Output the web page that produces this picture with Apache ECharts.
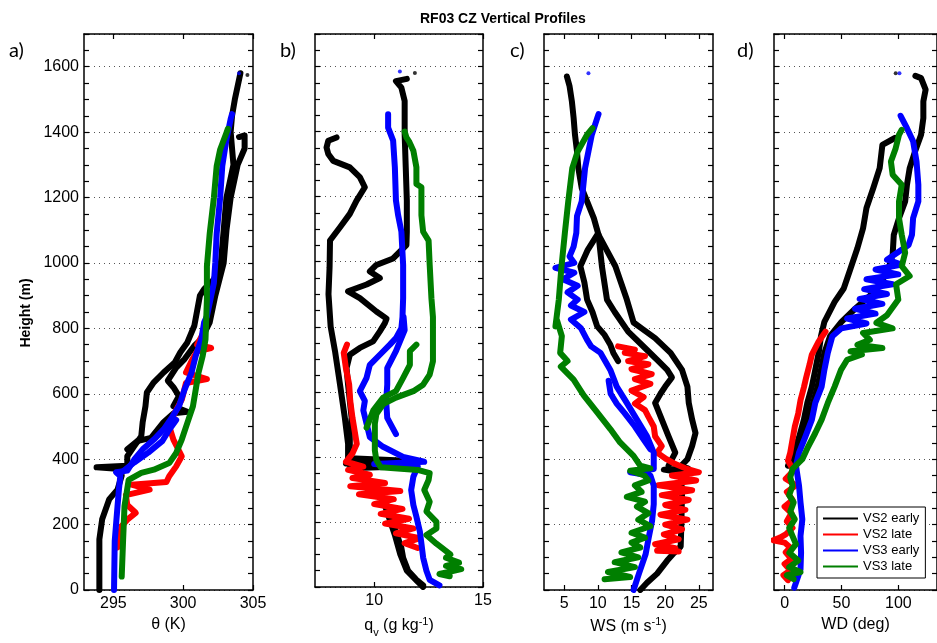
<!DOCTYPE html>
<html>
<head>
<meta charset="utf-8">
<script src="https://cdn.jsdelivr.net/npm/echarts@6/dist/echarts.min.js"></script>
<style>
  html, body { margin: 0; background: #fff; }
  #chart { width: 937px; height: 643px; }
</style>
</head>
<body>
<div id="chart"></div>
<script>
// every leg is a list of [x value, height in m]

// a) potential temperature (K)
const thetaVS2EarlyA = [[294.0,0],[294.0,155],[294.2,216],[294.7,277],[295.3,307],[295.6,350],[295.5,370],[293.8,375],[296.0,380],[296.0,409],[296.5,440],[297.0,470],[297.1,513],[297.3,562],[297.4,604],[297.9,635],[298.6,665],[299.4,696],[299.8,727],[300.3,757],[300.8,808],[301.2,900],[301.5,920],[302.2,950],[302.7,1000],[302.9,1100],[303.1,1200],[303.6,1300],[303.4,1400],[303.5,1450],[303.7,1500],[304.1,1580]]
const thetaVS2EarlyB = [[296.0,430],[296.7,455],[297.7,465],[298.6,513],[299.3,540],[300.3,545],[299.3,562],[299.7,593],[299.3,620],[298.9,640],[299.5,680],[300.1,706],[300.8,747],[301.3,767],[301.9,818],[302.3,900],[302.9,1000],[303.1,1100],[303.4,1200],[303.9,1300],[304.4,1350],[304.4,1390],[304.0,1385]]
const thetaVS2Late = [[295.3,130],[295.6,196],[296.0,215],[296.6,236],[296.0,260],[295.9,290],[297.6,307],[296.3,322],[298.8,330],[299.0,348],[299.5,378],[299.9,409],[299.3,460],[299.0,501],[299.4,542],[299.9,582],[300.2,633],[301.7,645],[300.2,665],[300.6,700],[301.0,730],[302.0,740],[301.0,750],[301.5,790]]
const thetaVS3Early = [[295.05,0],[295.1,150],[295.3,256],[295.4,307],[295.5,348],[295.2,360],[296.0,365],[296.5,399],[297.1,430],[297.9,460],[298.6,491],[299.1,521],[299.7,562],[300.1,613],[300.6,665],[300.9,716],[301.3,767],[301.5,818],[301.7,837],[302.2,939],[302.3,1000],[302.4,1090],[302.65,1200],[302.8,1296],[303.1,1378],[303.4,1440],[303.5,1455]]
const thetaVS3EarlyB = [[295.6,360],[296.5,390],[297.5,420],[298.5,455],[299.0,490],[299.5,520]]
const thetaVS3Late = [[295.6,41],[295.7,153],[295.8,256],[296.1,337],[297.0,358],[297.9,368],[299.0,388],[299.5,419],[299.9,460],[300.3,511],[300.7,562],[300.9,613],[301.1,665],[301.4,716],[301.6,767],[301.7,888],[301.7,990],[301.9,1090],[302.2,1200],[302.4,1296],[302.65,1347],[303.1,1398],[303.2,1410]]

// b) water vapour mixing ratio (g/kg)
const qVS2EarlyA = [[12.25,0],[11.5,50],[11.2,100],[10.95,160],[10.7,210],[10.5,250],[10.1,300],[9.6,340],[9.2,365],[8.8,380],[8.8,440],[8.65,521],[8.43,622],[8.2,725],[8.0,800],[7.9,900],[7.95,983],[7.97,1065],[8.43,1106],[8.88,1147],[9.19,1188],[9.57,1229],[9.34,1260],[8.88,1290],[8.12,1310],[7.89,1331],[7.81,1351],[7.89,1372],[8.27,1382]]
const qVS2EarlyB = [[12.25,5],[11.94,22],[11.56,50],[11.33,90],[11.25,120],[11.0,170],[10.8,211],[10.57,252],[10.26,283],[9.8,319],[9.34,350],[8.88,365],[11.8,372],[8.7,380],[11.5,388],[8.9,396],[8.88,420],[8.88,470],[8.96,521],[8.88,572],[8.8,622],[8.73,673],[8.88,714],[9.34,735],[9.95,755],[10.26,786],[10.49,811],[10.57,825],[10.1,847],[9.34,888],[8.8,909],[9.65,930],[10.26,950],[9.8,970],[10.1,990],[10.87,1010],[11.18,1031],[11.48,1051],[11.5,1092],[11.5,1188],[11.45,1290],[11.4,1392],[11.4,1494],[11.25,1535],[11.0,1555],[11.5,1562]]
const qVS2Late = [[12.0,120],[11.4,135],[12.1,150],[11.0,165],[11.8,180],[10.5,195],[11.6,210],[10.3,225],[11.3,240],[10.0,255],[10.9,270],[9.3,285],[11.2,295],[8.9,310],[10.5,320],[9.0,335],[9.8,345],[8.8,360],[9.5,370],[8.7,385],[9.0,410],[9.2,440],[9.1,480],[9.0,521],[8.9,572],[8.85,622],[8.7,673],[8.6,720],[8.75,745]]
const qVS3Early = [[13.0,5],[12.55,22],[12.4,50],[12.25,90],[12.17,133],[12.1,170],[11.94,216],[11.8,252],[11.7,298],[11.8,339],[12.0,370],[10.0,378],[12.3,385],[11.33,400],[10.41,431],[9.8,461],[9.65,502],[9.5,543],[9.57,572],[9.34,602],[9.65,643],[9.8,683],[10.26,714],[10.72,745],[11.0,765],[11.25,796],[11.3,830],[11.33,888],[11.33,990],[11.25,1092],[11.1,1143],[11.0,1188],[10.95,1290],[10.87,1372],[10.64,1412],[10.64,1453]]
const qVS3EarlyB = [[11.0,470],[10.6,520],[10.55,572],[10.6,622],[10.6,673],[11.0,725],[11.4,790],[11.35,830]]
const qVS3Late = [[13.47,33],[13.0,40],[14.0,55],[13.3,65],[13.9,75],[13.3,90],[13.5,100],[12.86,133],[12.4,160],[12.86,180],[12.86,200],[12.4,232],[12.55,262],[12.3,298],[12.5,329],[12.55,350],[12.0,360],[10.3,368],[10.1,390],[10.03,420],[10.03,461],[10.03,502],[10.1,532],[10.41,562],[11.0,582],[11.8,602],[12.25,622],[12.55,653],[12.7,694],[12.7,745],[12.7,796],[12.7,830],[12.63,888],[12.55,990],[12.5,1065],[12.25,1092],[12.17,1143],[12.17,1188],[12.17,1229],[11.94,1239],[11.94,1290],[11.8,1341],[11.6,1370],[11.48,1382],[11.4,1400]]
const qVS3LateB = [[9.65,490],[9.96,543],[10.41,582],[11.0,602],[11.33,643],[11.64,683],[11.64,725],[11.94,745]]

// c) wind speed (m/s)
const wsVS2EarlyA = [[16.3,0],[17.3,22],[18.8,50],[20.3,90],[21.3,113],[22.3,133],[22.4,200],[22.5,300],[22.3,360],[19.8,368],[23.4,372],[22.3,378],[23.3,400],[24.0,440],[24.5,480],[24.0,521],[23.5,572],[23.3,622],[22.5,673],[20.8,725],[18.5,770],[16.5,800],[15.3,818],[14.3,888],[12.6,990],[10.1,1086],[9.4,1137],[8.4,1188],[7.6,1229],[7.1,1290],[6.9,1341],[6.6,1392],[6.4,1443],[6.14,1494],[5.8,1540],[5.4,1570]]
const wsVS2EarlyB = [[20.5,380],[21.5,420],[20.5,470],[19.5,521],[18.5,572],[19.3,600],[20.0,622],[21.0,650],[20.3,673],[19.0,700],[17.0,740],[14.5,790],[12.5,850],[11.35,888],[10.6,990],[10.1,1086]]
const wsVS2EarlyC = [[13.0,700],[12.3,725],[11.85,750],[11.0,780],[9.9,806],[9.2,850],[8.4,888],[8.0,940],[7.4,990],[8.5,1040],[9.9,1086]]
const wsVS2Late = [[13.0,745],[15.5,735],[14.0,725],[17.0,715],[14.5,700],[17.5,690],[15.0,675],[18.0,660],[15.5,645],[17.8,630],[15.0,610],[16.8,590],[15.5,570],[17.0,550],[17.5,530],[18.3,500],[18.5,470],[19.5,440],[18.8,420],[20.2,400],[21.5,385],[23.0,372],[25.0,360],[21.0,350],[24.6,335],[19.0,320],[24.0,305],[19.5,290],[23.5,275],[20.0,260],[23.0,245],[19.3,230],[23.3,215],[20.0,200],[22.5,185],[19.8,170],[22.0,155],[18.5,140],[21.5,128],[18.8,120],[22.0,118]]
const wsVS3Early = [[15.3,0],[16.1,50],[17.1,110],[17.55,160],[18.05,211],[18.3,262],[18.3,319],[17.8,350],[14.8,360],[18.3,370],[18.3,420],[17.3,470],[15.8,521],[14.3,572],[12.8,622],[11.85,673],[10.4,725],[9.0,745],[8.4,765],[7.5,800],[6.0,827],[8.0,850],[6.0,870],[7.0,888],[5.5,910],[7.0,930],[4.8,950],[6.5,970],[3.7,985],[6.5,1000],[5.8,1020],[6.4,1050],[6.8,1092],[6.9,1143],[7.6,1188],[8.1,1290],[8.6,1341],[9.1,1392],[9.9,1443],[10.1,1455]]
const wsVS3EarlyB = [[11.6,640],[11.9,600],[12.8,570],[14.0,540],[15.5,500],[16.8,460],[17.8,430]]
const wsVS3Late = [[11.0,33],[14.8,40],[11.5,55],[15.5,70],[12.5,85],[16.0,100],[13.5,115],[16.3,130],[15.0,145],[17.0,160],[15.0,175],[17.8,195],[16.0,215],[17.5,235],[15.8,255],[17.0,270],[14.3,285],[16.5,300],[15.5,320],[17.5,335],[16.9,350],[14.8,365],[17.8,372],[16.3,380],[15.3,410],[13.3,451],[11.85,492],[9.9,543],[7.9,595],[6.4,643],[4.5,683],[5.5,700],[4.4,725],[4.65,776],[3.9,827],[3.7,806],[4.2,888],[4.6,990],[5.1,1092],[5.6,1188],[6.2,1290],[7.0,1341],[8.4,1392],[9.2,1412]]

// d) wind direction (deg)
const wdVS2EarlyL = [[3,380],[8,420],[13,470],[17,521],[20,572],[24,622],[27,673],[30,725],[32,776],[35,820],[44,881],[52,922],[58,983],[64,1045],[69,1106],[72,1168],[78,1229],[83.6,1290],[86,1361],[97,1382]]
const wdVS2EarlyR = [[6,380],[12,420],[17,470],[21,521],[25,572],[29,622],[32,673],[35,725],[40,776],[50,820],[62,860],[75,900],[85,940],[92,990],[95,1025],[96,1086],[100.6,1137],[106,1188],[107.6,1239],[110,1290],[114.7,1341],[120,1392],[122,1443],[122,1494],[124,1530],[120,1565],[115,1572]]
const wdVS2Late = [[36,790],[30,760],[24,720],[22,690],[19,650],[17,620],[14,580],[12,540],[9,500],[7,460],[5,420],[3,395],[8,365],[1,340],[10,320],[2,300],[7,275],[0,255],[6,235],[2,210],[7,190],[1,170],[-4,160],[-10,152],[0,145],[5,130],[1,115],[6,95],[0,80],[5,60],[-1,45],[3,30]]
const wdVS3Early = [[8.5,7],[10,22],[14,63],[14.5,114],[14,165],[15.6,216],[14,268],[12.7,319],[10,380],[12.7,420],[18.4,470],[24,521],[27,572],[32.6,622],[35,673],[38,725],[42,776],[50,800],[72,815],[55,830],[80,845],[62,860],[86,875],[66,890],[90,905],[70,920],[95,935],[72,950],[100,965],[80,980],[103,995],[90,1010],[109,1055],[112,1086],[113,1137],[117.6,1188],[117.6,1239],[116,1310],[113,1372],[107.6,1412],[102,1450]]
const wdVS3Late = [[8,33],[2,45],[14,55],[4,70],[12,90],[4.2,114],[10,140],[7,165],[4,190],[9,216],[5,240],[8,268],[4,290],[7,319],[5,345],[7,370],[15.6,400],[21,440],[27,480],[32.6,521],[38,572],[44,622],[49.6,673],[55,704],[68,720],[58,730],[86,740],[64,750],[75,765],[69,786],[95,800],[80.7,817],[90,840],[100,888],[98,935],[110,960],[103,990],[106,1031],[103,1086],[100.6,1137],[100.6,1188],[103,1239],[95,1270],[93.5,1310],[97.7,1351],[100.6,1392],[103,1407]]

// single stray samples near the top of the profiles
const strayVS2Early = [[[304.6,1575]], [[11.87,1580]], [], [[97.7,1580]]]
const strayVS3Early = [[[304.0,1580]], [[11.18,1585]], [[8.6,1580]], [[101,1580]]]

const heightTicks = [0, 200, 400, 600, 800, 1000, 1200, 1400, 1600]
const thetaTicks = [295, 300, 305]
const qTicks = [10, 15]
const wsTicks = [5, 10, 15, 20, 25]
const wdTicks = [0, 50, 100]

const NAMES = ['VS2 early', 'VS2 late', 'VS3 early', 'VS3 late']
const COLORS = { 'VS2 early': '#000000', 'VS2 late': '#ff0000', 'VS3 early': '#0000ff', 'VS3 late': '#007f00' }
const FONT = '"Liberation Sans", Arial, sans-serif'

const panels = [
  { left: 84, width: 169, min: 292.9, max: 305, ticks: thetaTicks, name: '{t|\u03b8 (K)}',
    legs: [['VS2 early', thetaVS2EarlyA], ['VS2 early', thetaVS2EarlyB], ['VS2 late', thetaVS2Late],
      ['VS3 early', thetaVS3Early], ['VS3 early', thetaVS3EarlyB], ['VS3 late', thetaVS3Late]] },
  { left: 315, width: 168, min: 7.28, max: 15, ticks: qTicks, name: '{t|q}{sub|v}{t| (g kg}{sup|-1}{t|)}',
    legs: [['VS2 early', qVS2EarlyA], ['VS2 early', qVS2EarlyB], ['VS2 late', qVS2Late],
      ['VS3 early', qVS3Early], ['VS3 early', qVS3EarlyB], ['VS3 late', qVS3Late], ['VS3 late', qVS3LateB]] },
  { left: 544, width: 169, min: 2.0, max: 27.1, ticks: wsTicks, name: '{t|WS (m s}{sup|-1}{t|)}',
    legs: [['VS2 early', wsVS2EarlyA], ['VS2 early', wsVS2EarlyB], ['VS2 early', wsVS2EarlyC], ['VS2 late', wsVS2Late],
      ['VS3 early', wsVS3Early], ['VS3 early', wsVS3EarlyB], ['VS3 late', wsVS3Late]] },
  { left: 774, width: 169, min: -9.3, max: 134, ticks: wdTicks, name: '{t|WD (deg)}',
    legs: [['VS2 early', wdVS2EarlyL], ['VS2 early', wdVS2EarlyR], ['VS2 late', wdVS2Late],
      ['VS3 early', wdVS3Early], ['VS3 late', wdVS3Late]] },
]

const axisLine = { show: true, onZero: false, lineStyle: { color: '#000', width: 1.5 } }
const tickStyle = { color: '#000', width: 1.2 }
const labelStyle = { color: '#000', fontSize: 16, fontFamily: FONT }

const grid = []
const xAxis = []
const yAxis = []
const series = []

panels.forEach((p, g) => {
  grid.push({ left: p.left, top: 34, width: p.width, height: 556 })
  xAxis.push({
    gridIndex: g, type: 'value', position: 'bottom', min: p.min, max: p.max,
    name: p.name, nameLocation: 'middle', nameGap: 26,
    nameTextStyle: {
      rich: {
        t: { fontSize: 16, fontFamily: FONT, color: '#000' },
        sub: { fontSize: 11, fontFamily: FONT, color: '#000', padding: [14, 0, 0, 0] },
        sup: { fontSize: 11, fontFamily: FONT, color: '#000', padding: [0, 0, 8, 0] },
      },
    },
    axisLine,
    axisTick: { inside: true, length: 5, customValues: p.ticks, lineStyle: tickStyle },
    axisLabel: { customValues: p.ticks, margin: 6, ...labelStyle },
    splitLine: { show: false },
  })
  xAxis.push({
    gridIndex: g, type: 'value', position: 'top', min: p.min, max: p.max,
    axisLine,
    axisTick: { inside: true, length: 5, customValues: p.ticks, lineStyle: tickStyle },
    axisLabel: { show: false },
    splitLine: { show: false },
  })
  const yBase = {
    gridIndex: g, type: 'value', min: 0, max: 1700, interval: 200,
    axisLine,
    axisTick: { inside: true, length: 5, lineStyle: tickStyle },
    minorTick: { show: true, splitNumber: 4, length: 5, lineStyle: tickStyle },
  }
  yAxis.push({
    ...yBase, position: 'left',
    axisLabel: { show: g === 0, showMaxLabel: false, margin: 5, ...labelStyle,
      formatter: (v) => (heightTicks.includes(v) ? String(v) : '') },
    splitLine: { show: true, lineStyle: { type: [1, 4], color: '#555', width: 1 } },
  })
  yAxis.push({
    ...yBase, position: 'right',
    axisLabel: { show: false },
    splitLine: { show: false },
  })

  p.legs.forEach(([name, data]) => {
    series.push({
      name, type: 'line', data,
      xAxisIndex: g * 2, yAxisIndex: g * 2,
      showSymbol: false, symbol: 'none',
      lineStyle: { width: 6, color: COLORS[name], join: 'round', cap: 'round' },
      itemStyle: { color: COLORS[name] },
      z: 2 + NAMES.indexOf(name),
      silent: true,
    })
  })
  ;[['VS2 early', strayVS2Early[g]], ['VS3 early', strayVS3Early[g]]].forEach(([name, data]) => {
    if (!data.length) return
    series.push({
      name, type: 'scatter', data, symbolSize: 4,
      xAxisIndex: g * 2, yAxisIndex: g * 2,
      itemStyle: { color: COLORS[name] }, silent: true, z: 6,
    })
  })
})

const chart = echarts.init(document.getElementById('chart'))
chart.setOption({
  animation: false,
  backgroundColor: '#fff',
  title: {
    text: 'RF03 CZ Vertical Profiles', left: 415, top: 7,
    textStyle: { fontSize: 14, fontWeight: 'bold', fontFamily: FONT, color: '#000' },
  },
  legend: {
    data: NAMES, orient: 'vertical', left: 817, top: 507,
    backgroundColor: '#fff', borderColor: '#000', borderWidth: 1,
    padding: [5, 6, 5, 6], itemGap: 3, itemWidth: 35, itemHeight: 2, icon: 'rect',
    textStyle: { fontSize: 13, fontFamily: FONT, color: '#000' },
  },
  grid, xAxis, yAxis, series,
  graphic: [
    { type: 'text', left: 9, top: 41, style: { text: 'a)', fontSize: 20, fontFamily: 'Lato', fill: '#000' } },
    { type: 'text', left: 280, top: 41, style: { text: 'b)', fontSize: 20, fontFamily: 'Lato', fill: '#000' } },
    { type: 'text', left: 510, top: 41, style: { text: 'c)', fontSize: 20, fontFamily: 'Lato', fill: '#000' } },
    { type: 'text', left: 737, top: 41, style: { text: 'd)', fontSize: 20, fontFamily: 'Lato', fill: '#000' } },
    { type: 'text', x: 26, y: 313, rotation: Math.PI / 2,
      style: { text: 'Height (m)', fontSize: 14, fontWeight: 'bold', fontFamily: FONT, fill: '#000', align: 'center', verticalAlign: 'middle' } },
  ],
})
</script>
</body>
</html>
